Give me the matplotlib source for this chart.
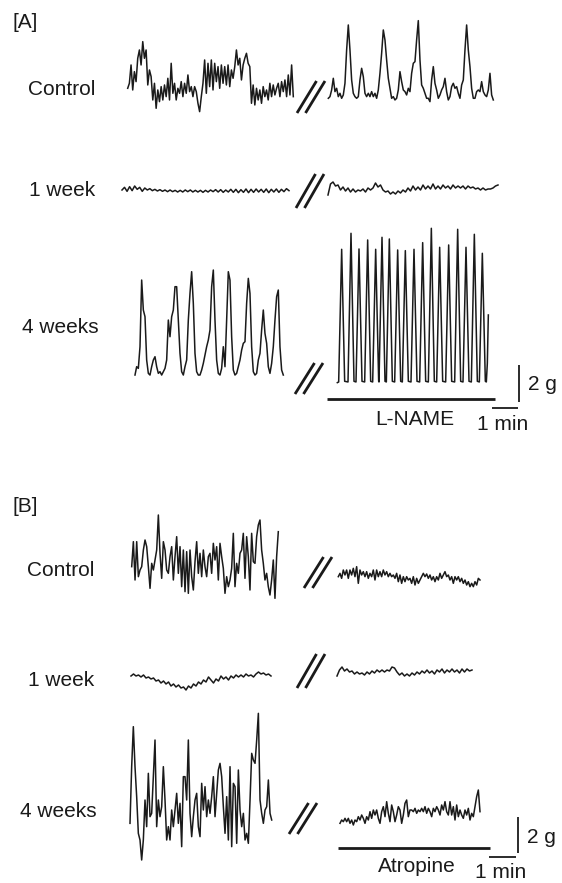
import numpy as np
import matplotlib
matplotlib.use("Agg")
import matplotlib.pyplot as plt
from matplotlib.transforms import Affine2D

plt.rcParams['font.family'] = ['Liberation Sans', 'DejaVu Sans']

# ---------------- data (tension deflection, 1 unit = 2 g / 111) ----------------
G_PER_UNIT = 2.0 / 111.0

A_control_before = [75, 90, 145, 70, 125, 95, 165, 190, 145, 215, 165, 190, 85, 130, 110, 40, 90, 15, 70, 35,
                    80, 40, 85, 50, 105, 40, 150, 60, 90, 40, 75, 60, 95, 50, 90, 60, 115, 65, 80, 50,
                    80, 65, 30, 5, 50, 90, 160, 60, 150, 80, 160, 70, 150, 95, 140, 75, 145, 90, 140, 85,
                    145, 80, 130, 105, 140, 190, 145, 165, 100, 145, 165, 180, 150, 140, 30, 85, 25, 75, 40, 70,
                    30, 80, 50, 70, 40, 90, 50, 85, 55, 75, 90, 50, 95, 65, 100, 50, 115, 55, 145, 50]

A_control_after = [15, 20, 40, 75, 35, 45, 20, 30, 15, 25, 60, 160, 235, 160, 70, 30, 20, 15, 20, 70,
                   105, 80, 30, 20, 30, 20, 35, 20, 30, 15, 40, 90, 150, 220, 190, 130, 75, 45, 15, 20,
                   10, 15, 40, 95, 65, 40, 35, 25, 45, 35, 90, 120, 125, 190, 248, 130, 55, 45, 30, 15,
                   15, 5, 70, 110, 60, 40, 15, 25, 40, 50, 75, 35, 10, 20, 50, 60, 45, 50, 30, 15,
                   55, 70, 160, 235, 160, 110, 45, 15, 15, 35, 40, 35, 65, 35, 25, 20, 40, 90, 25, 10]

A_week1_before = [12, 20, 8, 22, 10, 24, 14, 20, 8, 18, 12, 16, 10, 14, 9, 13, 8, 12, 7, 12, 7, 11, 6, 11, 6,
                  12, 7, 12, 6, 11, 6, 11, 5, 11, 6, 12, 7, 13, 6, 13, 5, 12, 6, 14, 5, 14, 4, 13, 5, 15,
                  4, 14, 5, 15, 6, 14, 5, 15, 4, 14, 6, 15, 5, 14, 7, 16, 10]

A_week1_after = [6, 39, 45, 33, 36, 21, 30, 18, 27, 15, 24, 15, 21, 18, 24, 15, 27, 21, 27, 42,
                 30, 36, 21, 15, 18, 9, 15, 9, 18, 12, 21, 15, 27, 18, 33, 21, 30, 21, 36, 24,
                 33, 24, 39, 24, 33, 24, 36, 27, 33, 24, 36, 27, 33, 27, 33, 24, 33, 27, 30, 24,
                 27, 21, 27, 21, 24, 24, 27, 33, 36]

A_week4_before = [5, 30, 25, 90, 290, 200, 180, 50, 10, 5, 30, 50, 60, 30, 10, 15, 5, 15, 25, 50,
                  170, 120, 180, 200, 270, 270, 170, 70, 15, 5, 30, 50, 170, 250, 315, 220, 70, 15, 5, 5,
                  20, 40, 65, 90, 110, 140, 270, 320, 170, 50, 10, 5, 25, 90, 30, 170, 315, 290, 120, 20,
                  5, 10, 30, 50, 80, 100, 105, 220, 295, 250, 90, 15, 5, 10, 50, 70, 140, 200, 130, 100,
                  30, 10, 40, 90, 170, 240, 260, 90, 20, 5]

# L-NAME trace: time in units of 0.75 s, deflection in units
LNAME_t = [142, 146, 150, 155, 160, 164, 174, 178, 183, 188, 192, 198, 202, 207, 212, 216,
           224, 228, 233, 238, 242, 248, 252, 257, 262, 266, 267, 271, 276, 281, 285,
           289, 293, 298, 303, 307, 314, 318, 323, 328, 332, 337, 341, 346, 351, 355,
           363, 367, 372, 377, 381, 389, 393, 398, 403, 407, 415, 419, 424, 429, 433,
           440, 444, 449, 454, 458, 467, 471, 476, 481, 485, 494, 498, 503, 508, 512,
           519, 523, 528, 533, 537, 544, 548, 553, 558, 562, 568, 572, 577, 582, 586,
           589, 592, 595]
LNAME_v = [2, 4, 181, 402, 181, 6, 4, 203, 450, 203, 6, 4, 181, 403, 181, 6,
           4, 194, 430, 194, 6, 4, 181, 402, 181, 6, 4, 197, 438, 197, 6,
           4, 195, 433, 195, 6, 4, 180, 400, 180, 6, 4, 179, 398, 179, 6,
           4, 181, 402, 181, 6, 4, 190, 422, 190, 6, 4, 209, 465, 209, 6,
           4, 184, 408, 184, 6, 4, 187, 415, 187, 6, 4, 208, 462, 208, 6,
           4, 184, 408, 184, 6, 4, 201, 447, 201, 6, 4, 176, 390, 176, 6,
           4, 60, 205]

B_control_before = [100, 175, 60, 175, 70, 90, 100, 150, 180, 160, 100, 35, 110, 90, 120, 150, 255, 140, 65, 175,
                    150, 90, 80, 130, 160, 60, 130, 190, 80, 160, 40, 150, 25, 145, 20, 150, 70, 30, 115, 175,
                    80, 140, 70, 150, 100, 70, 130, 140, 80, 170, 120, 160, 60, 170, 130, 95, 20, 70, 40, 60,
                    95, 200, 40, 110, 80, 140, 150, 200, 65, 190, 130, 30, 200, 115, 110, 190, 225, 240, 150, 110,
                    60, 80, 40, 15, 60, 120, 5, 130, 205]

B_control_after = [40, 50, 35, 60, 45, 60, 35, 60, 45, 65, 40, 70, 20, 60, 45, 55, 40, 55, 35, 50,
                   40, 60, 30, 60, 40, 55, 40, 60, 45, 55, 40, 50, 40, 45, 35, 50, 25, 45, 20, 40,
                   25, 40, 30, 35, 20, 40, 15, 35, 20, 30, 40, 50, 40, 48, 35, 45, 30, 40, 25, 40,
                   30, 50, 35, 45, 55, 40, 45, 30, 40, 20, 40, 30, 40, 25, 35, 20, 30, 15, 25, 10,
                   20, 10, 25, 15, 35, 30]

B_week1_before = [48, 54, 48, 51, 45, 51, 42, 45, 39, 42, 33, 36, 27, 33, 24, 30, 18, 24, 15, 21,
                  12, 15, 6, 18, 12, 24, 18, 30, 24, 36, 30, 45, 36, 27, 39, 33, 48, 39, 45, 36,
                  48, 42, 51, 45, 51, 45, 54, 48, 51, 45, 54, 60, 54, 57, 51, 54, 48]

B_week1_after = [48, 66, 75, 63, 69, 60, 63, 54, 60, 54, 57, 51, 60, 54, 63, 57, 66, 60, 66, 60,
                 66, 63, 75, 72, 60, 51, 57, 48, 54, 48, 57, 51, 60, 54, 63, 57, 66, 57, 63, 54,
                 66, 60, 69, 57, 66, 60, 69, 60, 66, 57, 69, 60, 69, 63, 66]

B_week4_before = [110, 280, 400, 280, 190, 80, 60, 0, 60, 180, 100, 260, 130, 140, 250, 360, 100, 180, 130, 160,
                  280, 180, 60, 100, 60, 150, 100, 150, 200, 110, 170, 40, 250, 250, 180, 360, 140, 70, 130, 180,
                  200, 100, 70, 230, 150, 220, 130, 180, 140, 190, 250, 130, 200, 270, 290, 250, 160, 80, 190, 60,
                  280, 40, 230, 220, 50, 270, 150, 100, 140, 60, 80, 50, 180, 320, 300, 290, 360, 440, 180, 140,
                  110, 150, 160, 240, 140, 120]

B_atropine = [8, 18, 13, 23, 13, 23, 8, 18, 3, 18, 13, 28, 18, 33, 23, 8, 28, 18, 43, 23,
              48, 33, 48, 23, 8, 43, 58, 28, 73, 38, 13, 63, 43, 13, 33, 58, 48, 8, 33, 68,
              78, 28, 48, 48, 43, 53, 38, 48, 43, 53, 43, 58, 38, 53, 43, 28, 53, 43, 58, 48,
              33, 63, 48, 73, 43, 33, 73, 33, 58, 18, 63, 28, 48, 33, 23, 48, 33, 53, 18, 38,
              28, 58, 88, 108, 43]

row_labels = ['Control', '1 week', '4 weeks']
panel_labels = ['[A]', '[B]']
drug_labels = ['L-NAME', 'Atropine']
scale_labels = ['2 g', '1 min']

# ---------------- figure ----------------
W, H = 562, 883
fig = plt.figure(figsize=(W / 100, H / 100), dpi=100)
ax = fig.add_axes([0, 0, 1, 1])
ax.set_xlim(0, W)
ax.set_ylim(H, 0)
ax.axis('off')

INK = '#1a1a1a'
PX_PER_UNIT = 1.0 / 3.0
LW = 1.1


def trace(vals, x0, x1, base):
    tr = Affine2D().scale(1, -PX_PER_UNIT).translate(0, base) + ax.transData
    xs = np.linspace(x0, x1, len(vals))
    ax.plot(xs, vals, color=INK, lw=LW, transform=tr, solid_joinstyle='round')


def trace_t(t, vals, x0, base):
    tr = Affine2D().scale(1 / 3.0, -PX_PER_UNIT).translate(x0, base) + ax.transData
    ax.plot(t, vals, color=INK, lw=LW, transform=tr, solid_joinstyle='round')


def brk(x, ytop, ybot):
    for dx in (0, 8.5):
        ax.plot([x + dx, x + dx + 19.5], [ybot, ytop], color=INK, lw=2.0,
                solid_capstyle='butt')


trace(A_control_before, 127.7, 293.3, 113.3)
trace(A_control_after, 328.3, 493.3, 103.3)
trace(A_week1_before, 122, 289, 194)
trace(A_week1_after, 328, 498, 197)
trace(A_week4_before, 135, 283.3, 376.7)
trace_t(LNAME_t, LNAME_v, 290, 383.3)

trace(B_control_before, 131.7, 278.3, 600)
trace(B_control_after, 338.3, 480, 590)
trace(B_week1_before, 131, 271, 692)
trace(B_week1_after, 337, 472, 692)
trace(B_week4_before, 130, 271.7, 860)
trace(B_atropine, 340, 480, 826)

# break marks
brk(297, 81, 113)
brk(296, 174, 208)
brk(295, 363, 394)
brk(304, 557, 588)
brk(297, 654, 688)
brk(289, 803, 834)

fs = 15
# labels
ax.text(13, 28, panel_labels[0], fontsize=fs, color=INK, va='baseline')
ax.text(28, 95, row_labels[0], fontsize=fs, color=INK, va='baseline')
ax.text(29, 196, row_labels[1], fontsize=fs, color=INK, va='baseline')
ax.text(22, 333, row_labels[2], fontsize=fs, color=INK, va='baseline')
ax.text(12, 512, panel_labels[1], fontsize=fs, color=INK, va='baseline')
ax.text(27, 576, row_labels[0], fontsize=fs, color=INK, va='baseline')
ax.text(28, 686, row_labels[1], fontsize=fs, color=INK, va='baseline')
ax.text(20, 817, row_labels[2], fontsize=fs, color=INK, va='baseline')

# drug bars and scale bars
ax.plot([327, 495], [399, 399], color=INK, lw=2.0, solid_capstyle='butt')
ax.text(415, 425, drug_labels[0], fontsize=fs, color=INK, ha='center', va='baseline')
ax.plot([519, 519], [365, 402], color=INK, lw=1.3, solid_capstyle='butt')
ax.plot([492, 518], [408, 408], color=INK, lw=1.3, solid_capstyle='butt')
ax.text(528, 390, scale_labels[0], fontsize=fs, color=INK, ha='left', va='baseline')
ax.text(503, 430, scale_labels[1], fontsize=fs, color=INK, ha='center', va='baseline')

ax.plot([338, 490], [848, 848], color=INK, lw=2.0, solid_capstyle='butt')
ax.text(417, 872, drug_labels[1], fontsize=fs, color=INK, ha='center', va='baseline')
ax.plot([518, 518], [817, 853], color=INK, lw=1.3, solid_capstyle='butt')
ax.plot([489, 516], [857, 857], color=INK, lw=1.3, solid_capstyle='butt')
ax.text(527, 843, scale_labels[0], fontsize=fs, color=INK, ha='left', va='baseline')
ax.text(501, 878, scale_labels[1], fontsize=fs, color=INK, ha='center', va='baseline')

fig.savefig('out.png', dpi=100, facecolor='white')
